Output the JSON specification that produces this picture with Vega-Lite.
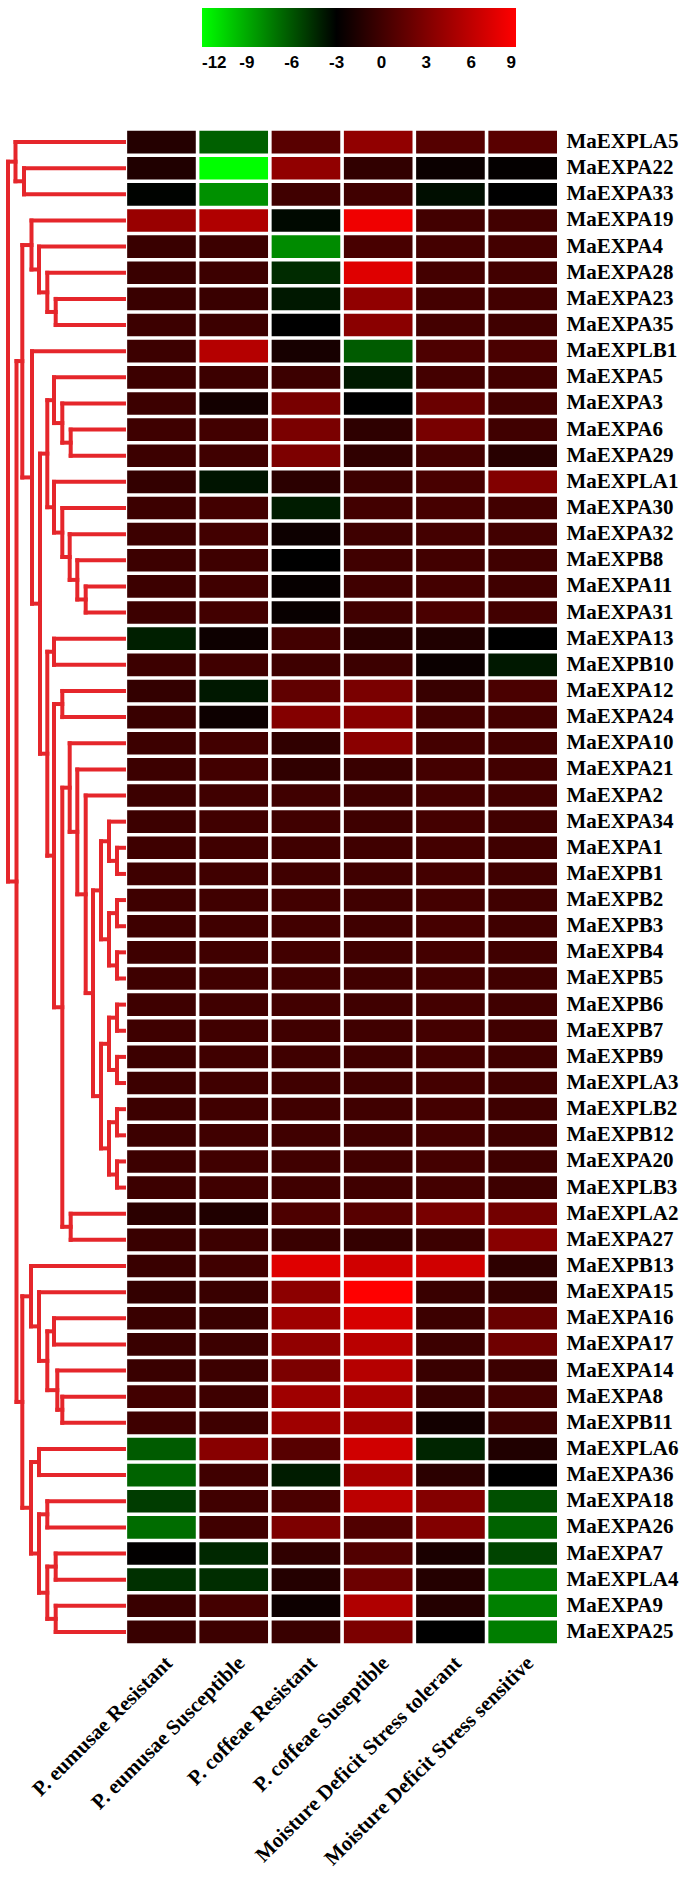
{
  "$schema": "https://vega.github.io/schema/vega-lite/v6.json",
  "autosize": "none",
  "width": 557,
  "height": 1516,
  "padding": {"left": 0, "top": 129, "right": 128, "bottom": 237},
  "background": "white",
  "config": {"view": {"stroke": null}, "axis": {"grid": false}},
  "datasets": {
    "cells": [
      {"g":"MaEXPLA5","c1":-1.3,"c2":-6.4,"c3":1.2,"c4":3.8,"c5":1.0,"c6":1.2},
      {"g":"MaEXPA22","c1":-1.5,"c2":-12,"c3":3.8,"c4":-0.7,"c5":-2.5,"c6":-2.8},
      {"g":"MaEXPA33","c1":-3.1,"c2":-8.1,"c3":0,"c4":0,"c5":-3.5,"c6":-3},
      {"g":"MaEXPA19","c1":4.2,"c2":5.3,"c3":-3.3,"c4":8.3,"c5":0.1,"c6":0.1},
      {"g":"MaEXPA4","c1":-0.3,"c2":-0.2,"c3":-7.9,"c4":0.4,"c5":0.2,"c6":0.2},
      {"g":"MaEXPA28","c1":-0.3,"c2":-0.2,"c3":-4.5,"c4":7.5,"c5":0.2,"c6":0.1},
      {"g":"MaEXPA23","c1":-0.3,"c2":-0.3,"c3":-3.85,"c4":3.8,"c5":0.2,"c6":0.1},
      {"g":"MaEXPA35","c1":-0.2,"c2":-0.2,"c3":-3,"c4":3.5,"c5":0.2,"c6":0},
      {"g":"MaEXPLB1","c1":-0.2,"c2":5.5,"c3":-1.9,"c4":-6.2,"c5":0.6,"c6":0.5},
      {"g":"MaEXPA5","c1":-0.2,"c2":-0.2,"c3":-0.2,"c4":-3.9,"c5":0.2,"c6":0.1},
      {"g":"MaEXPA3","c1":-0.2,"c2":-2.1,"c3":2.65,"c4":-3,"c5":2.0,"c6":0.1},
      {"g":"MaEXPA6","c1":-0.1,"c2":0.1,"c3":2.75,"c4":-0.85,"c5":2.65,"c6":0},
      {"g":"MaEXPA29","c1":-0.2,"c2":0,"c3":2.9,"c4":-0.75,"c5":0.2,"c6":-1.1},
      {"g":"MaEXPLA1","c1":-0.6,"c2":-3.7,"c3":-1.0,"c4":-0.2,"c5":0.4,"c6":3.1},
      {"g":"MaEXPA30","c1":-0.2,"c2":0.1,"c3":-4.0,"c4":0.1,"c5":0.3,"c6":0.1},
      {"g":"MaEXPA32","c1":-0.2,"c2":0.1,"c3":-2.4,"c4":-0.1,"c5":0.2,"c6":0.1},
      {"g":"MaEXPB8","c1":-0.2,"c2":-0.1,"c3":-3,"c4":0,"c5":0.1,"c6":0},
      {"g":"MaEXPA11","c1":-0.2,"c2":0,"c3":-2.7,"c4":0,"c5":0.2,"c6":0},
      {"g":"MaEXPA31","c1":-0.2,"c2":0.1,"c3":-2.6,"c4":0,"c5":0.5,"c6":0.1},
      {"g":"MaEXPA13","c1":-4.1,"c2":-2.4,"c3":0.1,"c4":-1.0,"c5":-1.5,"c6":-3},
      {"g":"MaEXPB10","c1":-0.2,"c2":0,"c3":-0.1,"c4":-0.2,"c5":-2.5,"c6":-3.85},
      {"g":"MaEXPA12","c1":-0.6,"c2":-3.85,"c3":1.5,"c4":2.75,"c5":-0.35,"c6":0.5},
      {"g":"MaEXPA24","c1":-0.3,"c2":-2.4,"c3":3.2,"c4":3.4,"c5":0.2,"c6":0.2},
      {"g":"MaEXPA10","c1":-0.2,"c2":0.1,"c3":-0.75,"c4":3.5,"c5":0.2,"c6":0.1},
      {"g":"MaEXPA21","c1":-0.2,"c2":0.1,"c3":-0.75,"c4":-0.3,"c5":0.2,"c6":0.1},
      {"g":"MaEXPA2","c1":-0.2,"c2":0,"c3":0,"c4":-0.1,"c5":0.2,"c6":0.1},
      {"g":"MaEXPA34","c1":-0.2,"c2":0,"c3":0,"c4":-0.1,"c5":0.2,"c6":0},
      {"g":"MaEXPA1","c1":-0.1,"c2":0,"c3":0,"c4":0,"c5":0.2,"c6":0},
      {"g":"MaEXPB1","c1":-0.1,"c2":0,"c3":0,"c4":0,"c5":0.2,"c6":0},
      {"g":"MaEXPB2","c1":-0.1,"c2":0,"c3":0.1,"c4":0,"c5":0.2,"c6":0},
      {"g":"MaEXPB3","c1":-0.1,"c2":0,"c3":0.1,"c4":0,"c5":0.3,"c6":0},
      {"g":"MaEXPB4","c1":-0.1,"c2":0,"c3":0.1,"c4":0,"c5":0.2,"c6":0},
      {"g":"MaEXPB5","c1":-0.1,"c2":0,"c3":0.1,"c4":0,"c5":0.2,"c6":0},
      {"g":"MaEXPB6","c1":-0.1,"c2":0,"c3":0.1,"c4":0,"c5":0.2,"c6":0},
      {"g":"MaEXPB7","c1":-0.1,"c2":0,"c3":0,"c4":0,"c5":0.2,"c6":0},
      {"g":"MaEXPB9","c1":-0.2,"c2":0,"c3":0,"c4":0,"c5":0.2,"c6":0},
      {"g":"MaEXPLA3","c1":-0.2,"c2":0,"c3":0,"c4":0,"c5":0.2,"c6":0},
      {"g":"MaEXPLB2","c1":-0.2,"c2":0,"c3":0,"c4":0,"c5":0.2,"c6":-0.1},
      {"g":"MaEXPB12","c1":-0.2,"c2":0,"c3":0,"c4":0,"c5":0.2,"c6":-0.1},
      {"g":"MaEXPA20","c1":-0.2,"c2":0,"c3":0,"c4":0,"c5":0.2,"c6":-0.1},
      {"g":"MaEXPLB3","c1":-0.2,"c2":0,"c3":0,"c4":0,"c5":0.2,"c6":-0.1},
      {"g":"MaEXPLA2","c1":-1.0,"c2":-1.5,"c3":0.6,"c4":1.1,"c5":2.65,"c6":2.4},
      {"g":"MaEXPA27","c1":-0.3,"c2":-0.2,"c3":-0.3,"c4":-0.55,"c5":-0.2,"c6":3.4},
      {"g":"MaEXPB13","c1":-0.3,"c2":0,"c3":7.5,"c4":6.8,"c5":6.8,"c6":-0.85},
      {"g":"MaEXPA15","c1":-0.6,"c2":-0.3,"c3":3.6,"c4":9,"c5":-0.3,"c6":-0.5},
      {"g":"MaEXPA16","c1":-0.3,"c2":-0.3,"c3":4.5,"c4":7.1,"c5":-0.2,"c6":1.9},
      {"g":"MaEXPA17","c1":-0.3,"c2":-0.2,"c3":3.8,"c4":5.7,"c5":-0.2,"c6":2.2},
      {"g":"MaEXPA14","c1":-0.3,"c2":-0.2,"c3":2.85,"c4":5.5,"c5":-0.3,"c6":-0.2},
      {"g":"MaEXPA8","c1":0.1,"c2":-0.1,"c3":4.5,"c4":4.9,"c5":-0.3,"c6":0.2},
      {"g":"MaEXPB11","c1":-0.1,"c2":-0.1,"c3":4.5,"c4":4.7,"c5":-2.1,"c6":-0.2},
      {"g":"MaEXPLA6","c1":-6.2,"c2":3.4,"c3":1.1,"c4":6.8,"c5":-4.3,"c6":-1.5},
      {"g":"MaEXPA36","c1":-6.5,"c2":0,"c3":-4.0,"c4":4.9,"c5":-1.0,"c6":-3},
      {"g":"MaEXPA18","c1":-5.1,"c2":0,"c3":0.5,"c4":5.8,"c5":3.2,"c6":-5.8},
      {"g":"MaEXPA26","c1":-6.8,"c2":0,"c3":2.9,"c4":0.8,"c5":3.1,"c6":-6.5},
      {"g":"MaEXPA7","c1":-2.9,"c2":-4.4,"c3":-0.75,"c4":0.8,"c5":-1.8,"c6":-5.4},
      {"g":"MaEXPLA4","c1":-4.7,"c2":-4.6,"c3":-1.3,"c4":2.1,"c5":-1.3,"c6":-7.2},
      {"g":"MaEXPA9","c1":-0.3,"c2":0.2,"c3":-2.4,"c4":5.3,"c5":-1.3,"c6":-7.5},
      {"g":"MaEXPA25","c1":-0.35,"c2":-0.2,"c3":-0.3,"c4":2.85,"c5":-3,"c6":-7.4}
    ],
    "dendro": [
      {"h":100,"h2":100,"y":2,"y2":3},{"h":100,"h2":0,"y":2,"y2":2},{"h":100,"h2":0,"y":3,"y2":3},
      {"h":108.5,"h2":108.5,"y":1,"y2":2.5},{"h":108.5,"h2":0,"y":1,"y2":1},{"h":108.5,"h2":100,"y":2.5,"y2":2.5},
      {"h":68.3,"h2":68.3,"y":7,"y2":8},{"h":68.3,"h2":0,"y":7,"y2":7},{"h":68.3,"h2":0,"y":8,"y2":8},
      {"h":76.7,"h2":76.7,"y":6,"y2":7.5},{"h":76.7,"h2":0,"y":6,"y2":6},{"h":76.7,"h2":68.3,"y":7.5,"y2":7.5},
      {"h":85,"h2":85,"y":5,"y2":6.75},{"h":85,"h2":0,"y":5,"y2":5},{"h":85,"h2":76.7,"y":6.75,"y2":6.75},
      {"h":92.5,"h2":92.5,"y":4,"y2":5.875},{"h":92.5,"h2":0,"y":4,"y2":4},{"h":92.5,"h2":85,"y":5.875,"y2":5.875},
      {"h":53.3,"h2":53.3,"y":12,"y2":13},{"h":53.3,"h2":0,"y":12,"y2":12},{"h":53.3,"h2":0,"y":13,"y2":13},
      {"h":61.7,"h2":61.7,"y":11,"y2":12.5},{"h":61.7,"h2":0,"y":11,"y2":11},{"h":61.7,"h2":53.3,"y":12.5,"y2":12.5},
      {"h":70,"h2":70,"y":10,"y2":11.75},{"h":70,"h2":0,"y":10,"y2":10},{"h":70,"h2":61.7,"y":11.75,"y2":11.75},
      {"h":38.3,"h2":38.3,"y":18,"y2":19},{"h":38.3,"h2":0,"y":18,"y2":18},{"h":38.3,"h2":0,"y":19,"y2":19},
      {"h":46.7,"h2":46.7,"y":17,"y2":18.5},{"h":46.7,"h2":0,"y":17,"y2":17},{"h":46.7,"h2":38.3,"y":18.5,"y2":18.5},
      {"h":54.3,"h2":54.3,"y":16,"y2":17.75},{"h":54.3,"h2":0,"y":16,"y2":16},{"h":54.3,"h2":46.7,"y":17.75,"y2":17.75},
      {"h":61.7,"h2":61.7,"y":15,"y2":16.875},{"h":61.7,"h2":0,"y":15,"y2":15},{"h":61.7,"h2":54.3,"y":16.875,"y2":16.875},
      {"h":70,"h2":70,"y":14,"y2":15.94},{"h":70,"h2":0,"y":14,"y2":14},{"h":70,"h2":61.7,"y":15.94,"y2":15.94},
      {"h":76.7,"h2":76.7,"y":10.875,"y2":14.97},{"h":76.7,"h2":70,"y":10.875,"y2":10.875},{"h":76.7,"h2":70,"y":14.97,"y2":14.97},
      {"h":70,"h2":70,"y":20,"y2":21},{"h":70,"h2":0,"y":20,"y2":20},{"h":70,"h2":0,"y":21,"y2":21},
      {"h":61.7,"h2":61.7,"y":22,"y2":23},{"h":61.7,"h2":0,"y":22,"y2":22},{"h":61.7,"h2":0,"y":23,"y2":23},
      {"h":7,"h2":7,"y":28,"y2":29},{"h":7,"h2":0,"y":28,"y2":28},{"h":7,"h2":0,"y":29,"y2":29},
      {"h":15,"h2":15,"y":27,"y2":28.5},{"h":15,"h2":0,"y":27,"y2":27},{"h":15,"h2":7,"y":28.5,"y2":28.5},
      {"h":7,"h2":7,"y":30,"y2":31},{"h":7,"h2":0,"y":30,"y2":30},{"h":7,"h2":0,"y":31,"y2":31},
      {"h":7,"h2":7,"y":32,"y2":33},{"h":7,"h2":0,"y":32,"y2":32},{"h":7,"h2":0,"y":33,"y2":33},
      {"h":15,"h2":15,"y":30.5,"y2":32.5},{"h":15,"h2":7,"y":30.5,"y2":30.5},{"h":15,"h2":7,"y":32.5,"y2":32.5},
      {"h":23,"h2":23,"y":27.75,"y2":31.5},{"h":23,"h2":15,"y":27.75,"y2":27.75},{"h":23,"h2":15,"y":31.5,"y2":31.5},
      {"h":7,"h2":7,"y":34,"y2":35},{"h":7,"h2":0,"y":34,"y2":34},{"h":7,"h2":0,"y":35,"y2":35},
      {"h":7,"h2":7,"y":36,"y2":37},{"h":7,"h2":0,"y":36,"y2":36},{"h":7,"h2":0,"y":37,"y2":37},
      {"h":15,"h2":15,"y":34.5,"y2":36.5},{"h":15,"h2":7,"y":34.5,"y2":34.5},{"h":15,"h2":7,"y":36.5,"y2":36.5},
      {"h":7,"h2":7,"y":38,"y2":39},{"h":7,"h2":0,"y":38,"y2":38},{"h":7,"h2":0,"y":39,"y2":39},
      {"h":7,"h2":7,"y":40,"y2":41},{"h":7,"h2":0,"y":40,"y2":40},{"h":7,"h2":0,"y":41,"y2":41},
      {"h":15,"h2":15,"y":38.5,"y2":40.5},{"h":15,"h2":7,"y":38.5,"y2":38.5},{"h":15,"h2":7,"y":40.5,"y2":40.5},
      {"h":23,"h2":23,"y":35.5,"y2":39.5},{"h":23,"h2":15,"y":35.5,"y2":35.5},{"h":23,"h2":15,"y":39.5,"y2":39.5},
      {"h":31,"h2":31,"y":29.63,"y2":37.5},{"h":31,"h2":23,"y":29.63,"y2":29.63},{"h":31,"h2":23,"y":37.5,"y2":37.5},
      {"h":38.3,"h2":38.3,"y":26,"y2":33.56},{"h":38.3,"h2":0,"y":26,"y2":26},{"h":38.3,"h2":31,"y":33.56,"y2":33.56},
      {"h":46.7,"h2":46.7,"y":25,"y2":29.78},{"h":46.7,"h2":0,"y":25,"y2":25},{"h":46.7,"h2":38.3,"y":29.78,"y2":29.78},
      {"h":54.3,"h2":54.3,"y":24,"y2":27.39},{"h":54.3,"h2":0,"y":24,"y2":24},{"h":54.3,"h2":46.7,"y":27.39,"y2":27.39},
      {"h":53.3,"h2":53.3,"y":42,"y2":43},{"h":53.3,"h2":0,"y":42,"y2":42},{"h":53.3,"h2":0,"y":43,"y2":43},
      {"h":61.7,"h2":61.7,"y":25.7,"y2":42.5},{"h":61.7,"h2":54.3,"y":25.7,"y2":25.7},{"h":61.7,"h2":53.3,"y":42.5,"y2":42.5},
      {"h":70,"h2":70,"y":22.5,"y2":34.1},{"h":70,"h2":61.7,"y":22.5,"y2":22.5},{"h":70,"h2":61.7,"y":34.1,"y2":34.1},
      {"h":76.7,"h2":76.7,"y":20.5,"y2":28.3},{"h":76.7,"h2":70,"y":20.5,"y2":20.5},{"h":76.7,"h2":70,"y":28.3,"y2":28.3},
      {"h":84,"h2":84,"y":12.92,"y2":24.4},{"h":84,"h2":76.7,"y":12.92,"y2":12.92},{"h":84,"h2":76.7,"y":24.4,"y2":24.4},
      {"h":92,"h2":92,"y":9,"y2":18.66},{"h":92,"h2":0,"y":9,"y2":9},{"h":92,"h2":84,"y":18.66,"y2":18.66},
      {"h":101.7,"h2":101.7,"y":4.94,"y2":13.83},{"h":101.7,"h2":92.5,"y":4.94,"y2":4.94},{"h":101.7,"h2":92,"y":13.83,"y2":13.83},
      {"h":70,"h2":70,"y":46,"y2":47},{"h":70,"h2":0,"y":46,"y2":46},{"h":70,"h2":0,"y":47,"y2":47},
      {"h":61.7,"h2":61.7,"y":49,"y2":50},{"h":61.7,"h2":0,"y":49,"y2":49},{"h":61.7,"h2":0,"y":50,"y2":50},
      {"h":66.7,"h2":66.7,"y":48,"y2":49.5},{"h":66.7,"h2":0,"y":48,"y2":48},{"h":66.7,"h2":61.7,"y":49.5,"y2":49.5},
      {"h":76.7,"h2":76.7,"y":46.5,"y2":48.75},{"h":76.7,"h2":70,"y":46.5,"y2":46.5},{"h":76.7,"h2":66.7,"y":48.75,"y2":48.75},
      {"h":85,"h2":85,"y":45,"y2":47.63},{"h":85,"h2":0,"y":45,"y2":45},{"h":85,"h2":76.7,"y":47.63,"y2":47.63},
      {"h":93,"h2":93,"y":44,"y2":46.31},{"h":93,"h2":0,"y":44,"y2":44},{"h":93,"h2":85,"y":46.31,"y2":46.31},
      {"h":85,"h2":85,"y":51,"y2":52},{"h":85,"h2":0,"y":51,"y2":51},{"h":85,"h2":0,"y":52,"y2":52},
      {"h":76.7,"h2":76.7,"y":53,"y2":54},{"h":76.7,"h2":0,"y":53,"y2":53},{"h":76.7,"h2":0,"y":54,"y2":54},
      {"h":68.3,"h2":68.3,"y":55,"y2":56},{"h":68.3,"h2":0,"y":55,"y2":55},{"h":68.3,"h2":0,"y":56,"y2":56},
      {"h":68.3,"h2":68.3,"y":57,"y2":58},{"h":68.3,"h2":0,"y":57,"y2":57},{"h":68.3,"h2":0,"y":58,"y2":58},
      {"h":76.7,"h2":76.7,"y":55.5,"y2":57.5},{"h":76.7,"h2":68.3,"y":55.5,"y2":55.5},{"h":76.7,"h2":68.3,"y":57.5,"y2":57.5},
      {"h":85,"h2":85,"y":53.5,"y2":56.5},{"h":85,"h2":76.7,"y":53.5,"y2":53.5},{"h":85,"h2":76.7,"y":56.5,"y2":56.5},
      {"h":93,"h2":93,"y":51.5,"y2":55},{"h":93,"h2":85,"y":51.5,"y2":51.5},{"h":93,"h2":85,"y":55,"y2":55},
      {"h":101.7,"h2":101.7,"y":45.16,"y2":53.25},{"h":101.7,"h2":93,"y":45.16,"y2":45.16},{"h":101.7,"h2":93,"y":53.25,"y2":53.25},
      {"h":107.5,"h2":107.5,"y":9.38,"y2":49.2},{"h":107.5,"h2":101.7,"y":9.38,"y2":9.38},{"h":107.5,"h2":101.7,"y":49.2,"y2":49.2},
      {"h":116,"h2":116,"y":1.75,"y2":29.29},{"h":116,"h2":108.5,"y":1.75,"y2":1.75},{"h":116,"h2":107.5,"y":29.29,"y2":29.29}
    ]
  },
  "layer": [
    {
      "data": {"name": "cells"},
      "transform": [{"fold": ["c1","c2","c3","c4","c5","c6"], "as": ["cond","value"]}],
      "mark": {"type": "rect", "stroke": null},
      "encoding": {
        "x": {
          "field": "cond", "type": "nominal", "sort": null,
          "scale": {"paddingInner": 0.05, "paddingOuter": 0.88, "align": 1},
          "axis": {
            "orient": "bottom", "title": null, "ticks": false, "domain": false,
            "labelAngle": -45, "labelFont": "Liberation Serif", "labelFontWeight": "bold",
            "labelFontSize": 21, "labelColor": "#000000", "labelPadding": 7, "labelLimit": 500,
            "labelExpr": "datum.value == 'c1' ? 'P. eumusae Resistant' : datum.value == 'c2' ? 'P. eumusae Susceptible' : datum.value == 'c3' ? 'P. coffeae Resistant' : datum.value == 'c4' ? 'P. coffeae Suseptible' : datum.value == 'c5' ? 'Moisture Deficit Stress tolerant' : 'Moisture Deficit Stress sensitive'"
          }
        },
        "y": {
          "field": "g", "type": "nominal", "sort": null,
          "scale": {"paddingInner": 0.134, "paddingOuter": 0.067},
          "axis": {
            "orient": "right", "title": null, "ticks": false, "domain": false,
            "labelFont": "Liberation Serif", "labelFontWeight": "bold", "labelFontSize": 21,
            "labelColor": "#000000", "labelPadding": 9, "labelLimit": 300
          }
        },
        "color": {
          "field": "value", "type": "quantitative",
          "scale": {"type": "linear", "domain": [-12, -3, 9], "range": ["#00ff00", "#000000", "#ff0000"], "interpolate": "rgb"},
          "legend": {
            "orient": "none", "legendX": 202, "legendY": -121, "direction": "horizontal",
            "title": null, "gradientLength": 314, "gradientThickness": 39, "gradientStrokeWidth": 0,
            "values": [-12, -9, -6, -3, 0, 3, 6, 9],
            "labelExpr": "'' + datum.value",
            "labelFont": "Liberation Sans", "labelFontWeight": "bold", "labelFontSize": 17,
            "labelColor": "#000000", "labelAlign": "left", "labelOffset": 8, "labelOverlap": false
          }
        }
      }
    },
    {
      "data": {"name": "dendro"},
      "mark": {"type": "rule", "color": "#e5262b", "strokeWidth": 4, "strokeCap": "square"},
      "encoding": {
        "x": {"field": "h", "type": "quantitative", "scale": {"domain": [124, -433], "nice": false, "zero": false}, "axis": null},
        "x2": {"field": "h2"},
        "y": {"field": "y", "type": "quantitative", "scale": {"domain": [0.5, 58.5], "reverse": true, "nice": false, "zero": false}, "axis": null},
        "y2": {"field": "y2"}
      }
    }
  ],
  "resolve": {"scale": {"x": "independent", "y": "independent"}, "axis": {"x": "independent", "y": "independent"}}
}
